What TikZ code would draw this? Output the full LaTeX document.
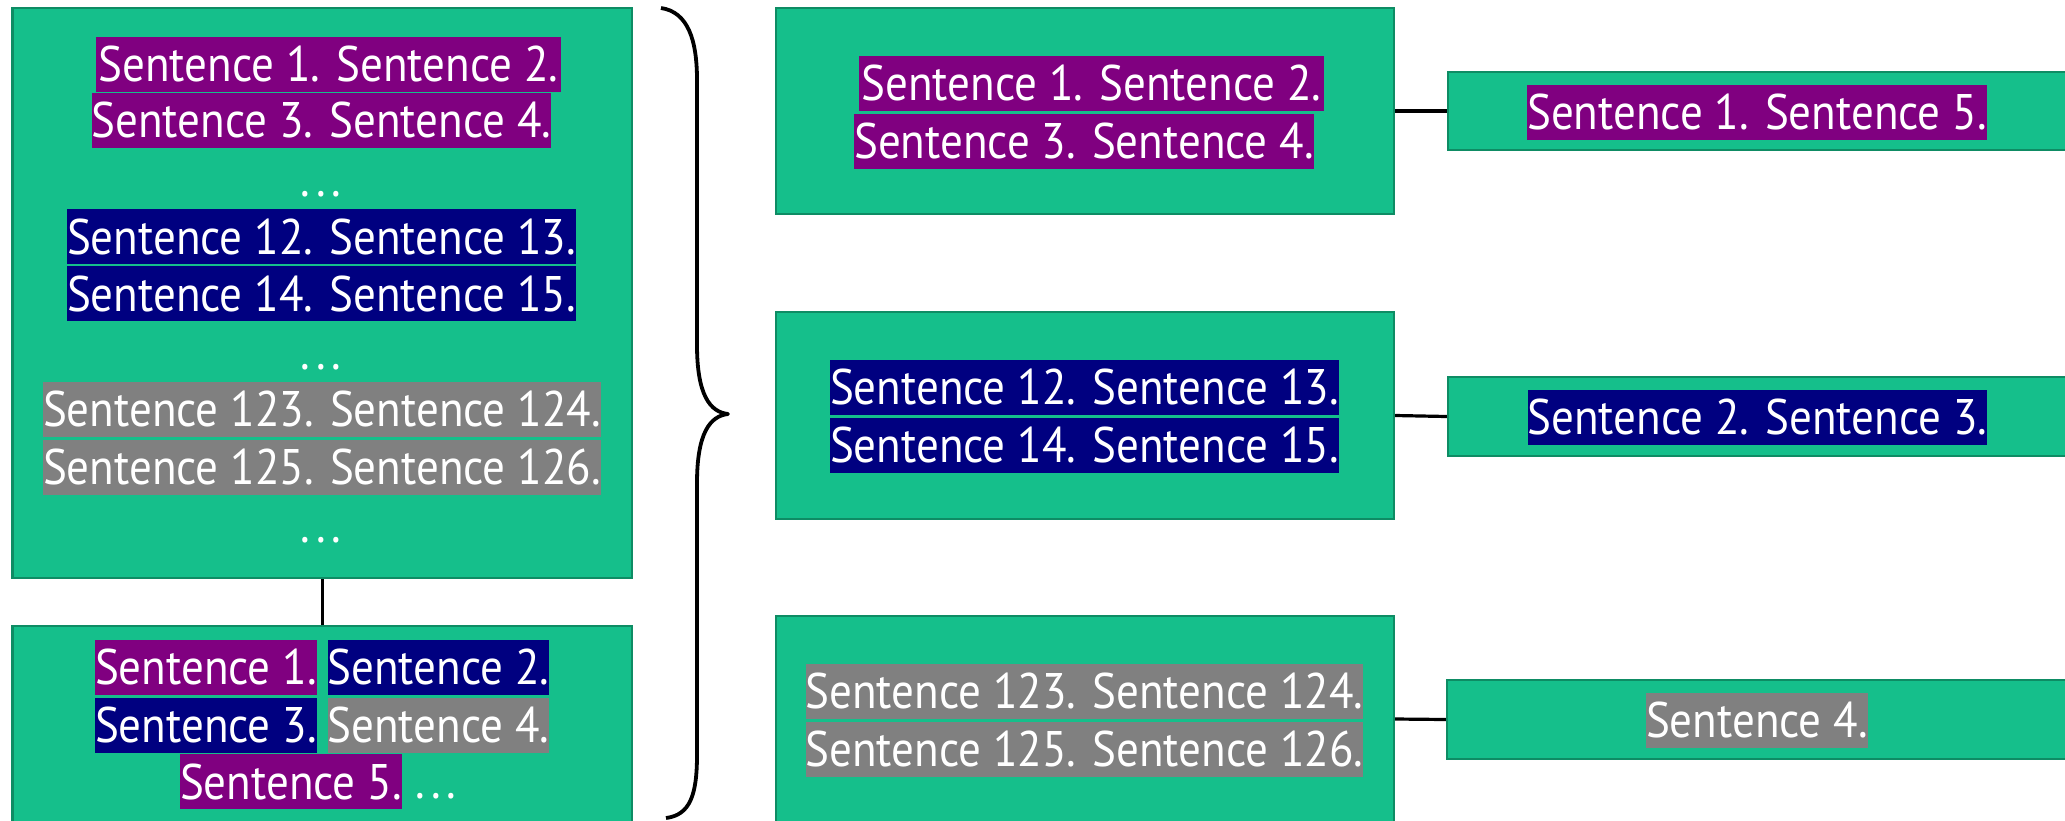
\documentclass[tikz,border=0pt]{standalone}
\usepackage{fontspec}
\setmainfont{PT Sans}[FakeStretch=0.9]
\definecolor{boxfill}{RGB}{21,191,139}
\definecolor{boxedge}{RGB}{14,140,100}
\definecolor{hpurple}{RGB}{128,0,128}
\definecolor{hnavy}{RGB}{0,0,128}
\definecolor{hgray}{RGB}{128,128,128}
\newcommand{\mydots}{.\kern3pt.\kern3pt.}
\begin{document}
\begin{tikzpicture}[x=0.5pt,y=-0.5pt,
  box/.style={rectangle, draw=boxedge, line width=1.2pt, fill=boxfill, inner sep=0pt},
  hl/.style={rectangle, inner sep=0pt, minimum height=27.5pt, text=white, font=\fontsize{25}{28}\selectfont},
  hlp/.style={hl, fill=hpurple},
  hlb/.style={hl, fill=hnavy},
  hlg/.style={hl, fill=hgray},
  dotstext/.style={inner sep=0pt, anchor=base, text=white, font=\fontsize{25}{28}\selectfont},
  link/.style={line width=1.6pt, black},
  bracestyle/.style={line width=1.9pt, black, line join=round}]
\useasboundingbox (0,0) rectangle (2065,820);

% left boxes
\node[box, minimum width=309.75pt, minimum height=285pt] (big) at (322.25,293) {};
\node[box, minimum width=309.75pt, minimum height=98pt] (bot) at (322.25,724) {};

% right boxes
\node[box, minimum width=309pt, minimum height=103pt] (r1) at (1085,111) {};
\node[box, minimum width=309pt, minimum height=103.5pt] (r2) at (1085,415.5) {};
\node[box, minimum width=309pt, minimum height=103pt] (r3) at (1085,719) {};

% far right boxes
\node[box, minimum width=316pt, minimum height=39pt] (s1) at (1764,111) {};
\node[box, minimum width=316pt, minimum height=39.5pt] (s2) at (1764,416.5) {};
\node[box, minimum width=316.5pt, minimum height=39.5pt] (s3) at (1763.5,719.5) {};

% connectors
\draw[link] (big.south) -- (bot.north);
\draw[link] (r1.east) -- (s1.west);
\draw[link] (r2.east) -- (s2.west);
\draw[link] (r3.east) -- (s3.west);

% brace
\draw[bracestyle] (661,8) .. controls (688,12) and (697,40) .. (697,80)
  -- (697,345) .. controls (697,395) and (710,412) .. (728,414)
  .. controls (710,416) and (697,433) .. (697,483)
  -- (697,755) .. controls (697,795) and (690,815) .. (666,818);

% big box texts
\node[hlp, minimum width=232.5pt] (bp1) at (328.5,64) {Sentence 1. Sentence 2.};
\node[hlp, minimum width=228.5pt] (bp2) at (321.5,120) {Sentence 3. Sentence 4.};
\node[dotstext] (bd1) at (321,196) {\mydots};
\node[hlb, minimum width=252.5pt] (bb1) at (321.5,236.5) {Sentence 12. Sentence 13.};
\node[hlb, minimum width=252.5pt] (bb2) at (321.5,293.5) {Sentence 14. Sentence 15.};
\node[dotstext] (bd2) at (321,369.5) {\mydots};
\node[hlg, minimum width=276pt] (bg1) at (322,409) {Sentence 123. Sentence 124.};
\node[hlg, minimum width=276pt] (bg2) at (322,467) {Sentence 125. Sentence 126.};
\node[dotstext] (bd3) at (321,542.5) {\mydots};

% bottom box texts
\node[hlp, minimum width=110pt] (t1) at (206,667) {Sentence 1.};
\node[hlb, minimum width=109.5pt] (t2) at (438.5,667) {Sentence 2.};
\node[hlb, minimum width=110pt] (t3) at (206,725) {Sentence 3.};
\node[hlg, minimum width=109.5pt] (t4) at (438.5,725) {Sentence 4.};
\node[hlp, minimum width=110pt] (t5) at (291,781.5) {Sentence 5.};
\node[dotstext] (td) at (436,798) {\mydots};

% right box texts
\node[hlp, minimum width=232.5pt] (rp1) at (1091.5,83) {Sentence 1. Sentence 2.};
\node[hlp, minimum width=228pt] (rp2) at (1084,141) {Sentence 3. Sentence 4.};
\node[hlb, minimum width=252.5pt] (rb1) at (1084.5,387) {Sentence 12. Sentence 13.};
\node[hlb, minimum width=252.5pt] (rb2) at (1084.5,445) {Sentence 14. Sentence 15.};
\node[hlg, minimum width=276.5pt] (rg1) at (1084.5,691) {Sentence 123. Sentence 124.};
\node[hlg, minimum width=276.5pt] (rg2) at (1084.5,749) {Sentence 125. Sentence 126.};

% far right texts
\node[hlp, minimum width=228pt] (sp) at (1757,112) {Sentence 1. Sentence 5.};
\node[hlb, minimum width=228.5pt] (sb) at (1757.5,417) {Sentence 2. Sentence 3.};
\node[hlg, minimum width=111pt] (sg) at (1757,720) {Sentence 4.};
\end{tikzpicture}
\end{document}
